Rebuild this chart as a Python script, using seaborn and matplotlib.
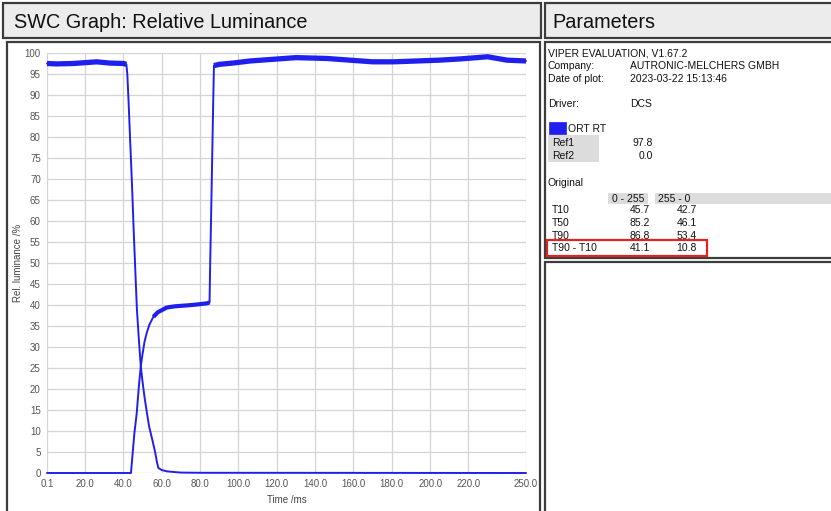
import pandas as pd
import matplotlib.pyplot as plt
import matplotlib.transforms as mtransforms
from matplotlib.patches import Rectangle
import seaborn as sns

# 255 -> 0 transition (falling trace)
t_fall = [0.1, 5, 13.6, 20, 26, 33, 40, 41.5, 42.0, 42.7, 43.5, 44.5, 45.3, 46.1,
          47, 48, 49, 50, 51, 52, 53.4, 55, 56.5, 57.5, 58.2, 60, 62.6, 66, 70, 80, 250]
lum_fall = [97.5, 97.4, 97.5, 97.7, 97.9, 97.6, 97.5, 97.3, 95, 88, 79, 68, 58, 49,
            39, 32, 25.5, 21.5, 18, 15, 11, 8, 5, 2.5, 1.2, 0.7, 0.4, 0.25, 0.1, 0.05, 0.0]

# 0 -> 255 transition (rising trace)
t_rise = [0.1, 43.9, 45.7, 46.9, 48, 49, 50, 51, 52.1, 53.5, 55.6, 58, 62.6, 67, 73,
          78, 83.5, 84.9, 85.2, 86.0, 86.8, 87.2, 90, 97, 106, 115, 130, 146, 158, 170,
          181, 193, 205, 216, 230, 240, 250]
lum_rise = [0, 0, 9.5, 14.2, 20.5, 25.3, 28.5, 31.3, 33.3, 35.3, 37.2, 38.3, 39.4, 39.7,
            39.9, 40.1, 40.4, 40.6, 49, 68, 88, 97.0, 97.3, 97.6, 98.1, 98.4, 98.9, 98.7,
            98.3, 97.9, 97.9, 98.1, 98.3, 98.6, 99.1, 98.3, 98.1]

x_ticks = [0.1, 20, 40, 60, 80, 100, 120, 140, 160, 180, 200, 220, 250]
x_tick_labels = ["0.1", "20.0", "40.0", "60.0", "80.0", "100.0", "120.0", "140.0",
                 "160.0", "180.0", "200.0", "220.0", "250.0"]
y_ticks = list(range(0, 101, 5))

info_labels = ["Company:", "Date of plot:"]
info_values = ["AUTRONIC-MELCHERS GMBH", "2023-03-22 15:13:46"]
ref_labels = ["Ref1", "Ref2"]
ref_values = ["97.8", "0.0"]
row_labels = ["T10", "T50", "T90", "T90 - T10"]
col_0_255 = ["45.7", "85.2", "86.8", "41.1"]
col_255_0 = ["42.7", "46.1", "53.4", "10.8"]

blue = "#2020ee"

sns.set_theme(style="white")
plt.rcParams["font.family"] = ["Liberation Sans", "DejaVu Sans"]

W, H = 831, 511
fig = plt.figure(figsize=(W / 100, H / 100), dpi=100)
px = mtransforms.Affine2D().scale(1 / W, -1 / H).translate(0, 1) + fig.transFigure


def box(x0, y0, x1, y1, fc, ec="#3c3c3c", lw=1.6, z=-1):
    fig.add_artist(Rectangle((x0, y0), x1 - x0, y1 - y0, transform=px,
                             facecolor=fc, edgecolor=ec, lw=lw, zorder=z))


def txt(x, y, s, size=8, **kw):
    fig.text(x, y, s, transform=px, fontsize=size, va="center", color="#111111", **kw)


# panels
box(3, 3, 541, 38, "#ececec")
box(545, 3, 835, 38, "#ececec")
box(7, 42, 540, 520, "white")
box(545, 42, 835, 258, "white")
box(545, 262, 835, 520, "white")

txt(14, 22, "SWC Graph: Relative Luminance", size=14.3)
txt(552, 22, "Parameters", size=14.3)

# parameters panel
txt(548, 54, "VIPER EVALUATION, V1.67.2", size=7.5)
for i, (lab, val) in enumerate(zip(info_labels, info_values)):
    txt(548, 66 + i * 13.5, lab, size=7.5)
    txt(630, 66 + i * 13.5, val, size=7.5)
txt(548, 104, "Driver:", size=7.5)
txt(630, 104, "DCS", size=7.5)

box(549, 122, 566, 134, blue, ec=blue, lw=0.5, z=1)
txt(568, 128.5, "ORT RT", size=7.5)
box(548, 135, 599, 162, "#dcdcdc", ec="none", lw=0, z=1)
for i, (lab, val) in enumerate(zip(ref_labels, ref_values)):
    txt(552, 143 + i * 13, lab, size=7.5)
    txt(653, 143 + i * 13, val, size=7.5, ha="right")

txt(548, 183, "Original", size=7.5)
box(608, 193, 648, 204, "#dcdcdc", ec="none", lw=0, z=1)
box(655, 193, 831, 204, "#dcdcdc", ec="none", lw=0, z=1)
txt(612, 198.5, "0 - 255", size=7.5)
txt(658, 198.5, "255 - 0", size=7.5)
for i, (lab, a, b) in enumerate(zip(row_labels, col_0_255, col_255_0)):
    yy = 210 + i * 12.8
    txt(552, yy, lab, size=7.5)
    txt(650, yy, a, size=7.5, ha="right")
    txt(697, yy, b, size=7.5, ha="right")
box(547, 240.5, 707, 256.5, "none", ec="#e02424", lw=1.6, z=2)

# chart
ax = fig.add_axes([47 / W, 1 - 473 / H, (526 - 47) / W, (473 - 53) / H])
ax.set_facecolor("white")

df = pd.concat([
    pd.DataFrame({"t": t_fall, "lum": lum_fall, "trace": "255 - 0"}),
    pd.DataFrame({"t": t_rise, "lum": lum_rise, "trace": "0 - 255"}),
], ignore_index=True)

sns.lineplot(data=df, x="t", y="lum", hue="trace", palette=[blue, blue],
             estimator=None, sort=False, lw=1.4, legend=False, ax=ax, clip_on=False)

# noisy steady levels drawn as a thicker band
high = df[df["lum"] > 96.9]
sns.lineplot(data=high, x="t", y="lum", hue="trace", palette=[blue, blue],
             estimator=None, sort=False, lw=3.8, legend=False, ax=ax,
             solid_capstyle="butt")
mid = df[(df["trace"] == "0 - 255") & (df["t"] >= 55.6) & (df["t"] <= 84.9)]
sns.lineplot(data=mid, x="t", y="lum", color=blue, estimator=None, sort=False,
             lw=3.0, legend=False, ax=ax, solid_capstyle="butt")

ax.set_xlim(0.1, 250)
ax.set_ylim(0, 100)
ax.set_xticks(x_ticks)
ax.set_xticklabels(x_tick_labels)
ax.set_yticks(y_ticks)
ax.grid(True, color="#d4d4d4", lw=0.9)
for s in ax.spines.values():
    s.set_visible(False)
ax.tick_params(axis="both", labelsize=7, colors="#555555", length=3, width=0.8,
               direction="out", pad=1.5)
ax.tick_params(axis="both", color="#999999")
ax.set_xlabel("Time /ms", fontsize=7, color="#444444", labelpad=4)
ax.set_ylabel("Rel. luminance /%", fontsize=7, color="#444444", labelpad=1)

fig.savefig("out.png", dpi=100)
